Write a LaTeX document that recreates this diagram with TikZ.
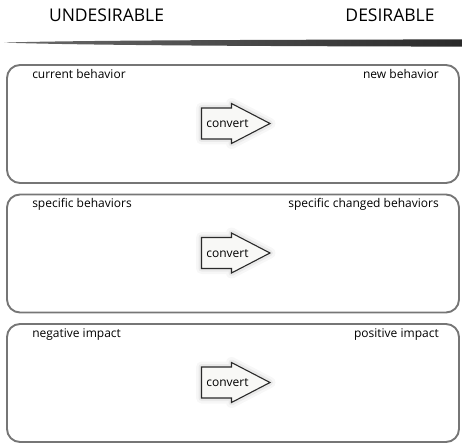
\documentclass[tikz,border=0pt]{standalone}
\usepackage{fontspec}
\setmainfont{Open Sans}
\usetikzlibrary{positioning}
\definecolor{panelgray}{HTML}{767676}
\definecolor{arrowline}{HTML}{2A2A2A}
\definecolor{arrowfill}{HTML}{F8F8F6}
\definecolor{brush}{HTML}{2A2A2A}

\begin{document}
\begin{tikzpicture}[x=1pt,y=-1pt,
  panel/.style={draw=panelgray,line width=1.9pt,rounded corners=13pt,
    minimum width=452pt,minimum height=118pt,inner sep=0pt},
  lab/.style={font=\fontsize{12}{14}\selectfont,inner sep=0pt},
  head/.style={font=\fontsize{17.5}{20}\selectfont,inner sep=0pt},
  conv/.style={draw=arrowline,fill=arrowfill,line width=1.1pt,
    preaction={draw=black,opacity=0.03,line width=11pt,line join=round},
    preaction={draw=black,opacity=0.05,line width=6pt,line join=round}}]
\useasboundingbox (0,0) rectangle (462,443);
\node[head] (undes) at (106.5,15) {UNDESIRABLE};
\node[head] (des) at (390,15) {DESIRABLE};
% brush stroke under the headings
\shade[left color=brush!70,right color=brush]
  (4,42.6) .. controls (60,40.8) and (200,39.8) .. (462,39.4)
  -- (462,46.6) .. controls (200,46.2) and (60,44.6) .. (4,42.6) -- cycle;

\node[panel] (row1) at (233,124) {};
\node[panel] (row2) at (233,253.5) {};
\node[panel] (row3) at (233,383) {};

\node[lab, below right=5pt and 26pt of row1.north west] (cur) {current behavior};
\node[lab, below left=5pt and 21pt of row1.north east] (new) {new behavior};
\node[lab, below right=5pt and 26pt of row2.north west] (spec) {specific behaviors};
\node[lab, below left=5pt and 21pt of row2.north east] (chg) {specific changed behaviors};
\node[lab, below right=5pt and 26pt of row3.north west] (neg) {negative impact};
\node[lab, below left=5pt and 21pt of row3.north east] (pos) {positive impact};

\draw[conv] ([shift={(-31.5,-16)}]row1.center) -- ++(30,0) -- ++(0,-4.5)
  -- ++(38.5,20) -- ++(-38.5,20) -- ++(0,-4.5) -- ++(-30,0) -- cycle;
\draw[conv] ([shift={(-31.5,-16)}]row2.center) -- ++(30,0) -- ++(0,-4.5)
  -- ++(38.5,20) -- ++(-38.5,20) -- ++(0,-4.5) -- ++(-30,0) -- cycle;
\draw[conv] ([shift={(-31.5,-16)}]row3.center) -- ++(30,0) -- ++(0,-4.5)
  -- ++(38.5,20) -- ++(-38.5,20) -- ++(0,-4.5) -- ++(-30,0) -- cycle;
\node[lab] (conv1) at ([shift={(-5.5,0)}]row1.center) {convert};
\node[lab] (conv2) at ([shift={(-5.5,0)}]row2.center) {convert};
\node[lab] (conv3) at ([shift={(-5.5,0)}]row3.center) {convert};
\end{tikzpicture}
\end{document}
